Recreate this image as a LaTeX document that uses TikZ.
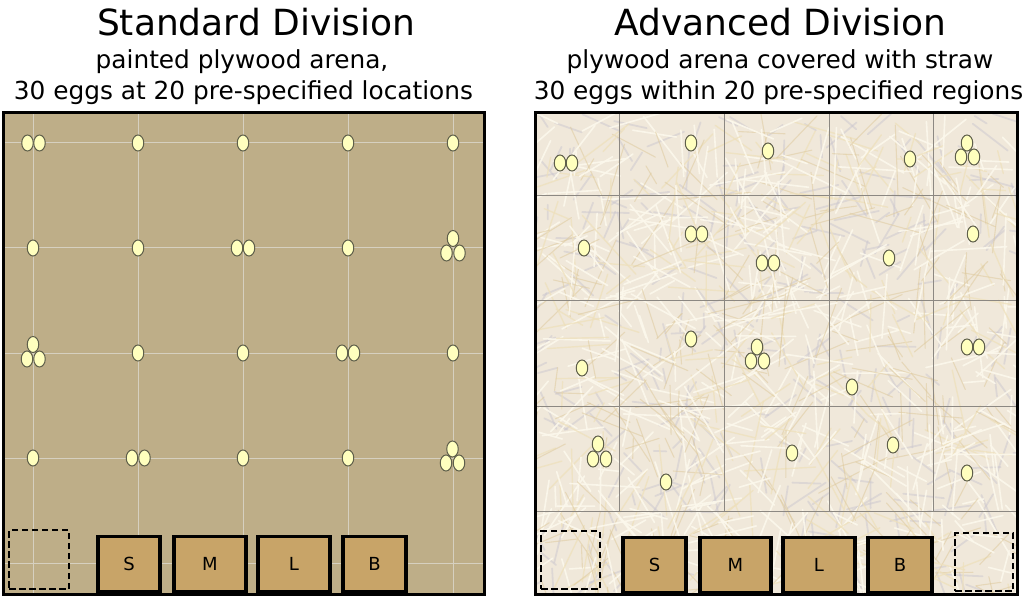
\documentclass[tikz,border=0pt]{standalone}
\usepackage{fontspec}
\setmainfont{DejaVu Sans}
\usetikzlibrary{shapes.geometric}
\definecolor{plywood}{RGB}{190,174,136}
\definecolor{boxfill}{RGB}{200,164,104}
\definecolor{eggfill}{RGB}{255,255,190}
\definecolor{eggline}{RGB}{95,95,75}
\definecolor{strawbase}{RGB}{240,232,218}
\definecolor{strawA}{RGB}{252,248,236}
\definecolor{strawB}{RGB}{222,202,158}
\definecolor{strawC}{RGB}{200,196,206}
\definecolor{strawD}{RGB}{238,224,188}
\definecolor{lgrid}{RGB}{214,208,192}
\definecolor{rgrid}{RGB}{140,136,130}
\begin{document}
\begin{tikzpicture}[x=1pt,y=-1pt,
  egg/.style={ellipse, draw=eggline, fill=eggfill, line width=1pt,
    minimum width=11.5pt, minimum height=16pt, inner sep=0pt},
  cratebox/.style={draw=black, line width=3.5pt, fill=boxfill,
    font=\fontsize{18}{18}\selectfont, inner sep=0pt, minimum height=55pt},
  dropbox/.style={draw=black, dashed, dash pattern=on 6.5pt off 3.5pt,
    line width=2pt, inner sep=0pt},
  frame/.style={draw=black, line width=3pt},
  titletext/.style={anchor=base, font=\fontsize{36}{36}\selectfont},
  subtext/.style={anchor=base, font=\fontsize{24.8}{24.8}\selectfont}
]
\useasboundingbox (0,0) rectangle (1029,596);

% ---------- titles ----------
\node[titletext] (tl) at (256,36) {Standard Division};
\node[subtext] (sl1) at (242,69) {painted plywood arena,};
\node[subtext] (sl2) at (243.5,100) {30 eggs at 20 pre-specified locations};
\node[titletext] (tr) at (780.5,36) {Advanced Division};
\node[subtext] (sr1) at (780,69) {plywood arena covered with straw};
\node[subtext] (sr2) at (778.5,100) {30 eggs within 20 pre-specified regions};

% ---------- left arena ----------
\fill[plywood] (3,113) rectangle (484,594);
\foreach \g in {33,138,243,348,453}{
  \draw[lgrid, line width=1pt] (\g,113) -- (\g,594);
}
\foreach \g in {143,248,353,458,563}{
  \draw[lgrid, line width=1pt] (3,\g) -- (484,\g);
}

% ---------- right arena (straw) ----------
\begin{scope}
\clip (535,113) rectangle (1017,594);
\fill[strawbase] (535,113) rectangle (1017,594);
\pgfmathsetseed{11}
\foreach \i in {1,...,300}{
  \pgfmathsetmacro\sx{535+482*rnd}
  \pgfmathsetmacro\sy{113+481*rnd}
  \pgfmathsetmacro\ang{180*rnd}
  \pgfmathsetmacro\len{12+35*rnd}
  \draw[strawC, opacity=0.45, line width=1.8pt, line cap=round] (\sx,\sy) -- ++(\ang:\len);
}
\foreach \i in {1,...,900}{
  \pgfmathsetmacro\sx{535+482*rnd}
  \pgfmathsetmacro\sy{113+481*rnd}
  \pgfmathsetmacro\ang{180*rnd}
  \pgfmathsetmacro\len{20+60*rnd}
  \pgfmathtruncatemacro\c{int(4*rnd)}
  \ifcase\c
    \draw[strawB, opacity=0.55, line width=1.1pt, line cap=round] (\sx,\sy) -- ++(\ang:\len);
  \or
    \draw[strawD, opacity=0.75, line width=1.4pt, line cap=round] (\sx,\sy) -- ++(\ang:\len);
  \else
    \draw[strawA, opacity=0.9, line width=1.6pt, line cap=round] (\sx,\sy) -- ++(\ang:\len);
  \fi
}
\end{scope}
\foreach \g in {619,724,829,933}{
  \draw[rgrid, line width=1pt] (\g,113) -- (\g,511);
}
\foreach \g in {196,301,406,511}{
  \draw[rgrid, line width=1pt] (535,\g) -- (1017,\g);
}

% ---------- eggs ----------
\foreach \x/\y [count=\n] in {
  27.5/143,39.5/143,138/143,243/143,348/143,453/143,
  33/248,138/248,237/248,249/248,348/248,453/238.5,446.5/253,459.5/253,
  33/344.5,27/359,39.5/359,138/353,243/353,342/353,354/353,453/353,
  33/458,132/458,144.5/458,243/458,348/458,452.5/449,446/463,459/463}{
  \node[egg] (L\n) at (\x,\y) {};
}
\foreach \x/\y [count=\n] in {
  560/163,572/163,691/143,768/151,910/159,967/143,961/157,974/157,
  584/248,691/234,702/234,762/263,774/263,889/258,973/234,
  582/368,691/339,757/347,751/361,764/361,852/387,967/347,979/347,
  598/444,593/459,606/459,666/482,792/453,893/445,967/473}{
  \node[egg] (R\n) at (\x,\y) {};
}

% ---------- boxes ----------
\node[dropbox, minimum width=60pt, minimum height=59pt] (ldrop) at (39,559.5) {};
\node[cratebox, minimum width=62pt] (lS) at (129,564) {S};
\node[cratebox, minimum width=72pt] (lM) at (210,564) {M};
\node[cratebox, minimum width=72pt] (lL) at (294,564) {L};
\node[cratebox, minimum width=63pt] (lB) at (374.5,564) {B};

\node[dropbox, minimum width=59pt, minimum height=58pt] (rdrop1) at (570.5,560) {};
\node[cratebox, minimum width=63pt] (rS) at (654.5,565) {S};
\node[cratebox, minimum width=71pt] (rM) at (735.5,565) {M};
\node[cratebox, minimum width=72pt] (rL) at (819,565) {L};
\node[cratebox, minimum width=64pt] (rB) at (900,565) {B};
\node[dropbox, minimum width=58pt, minimum height=58pt] (rdrop2) at (984,562) {};

% ---------- frames ----------
\draw[frame] (3,113) rectangle (484,594);
\draw[frame] (535,113) rectangle (1017,594);
\end{tikzpicture}
\end{document}
